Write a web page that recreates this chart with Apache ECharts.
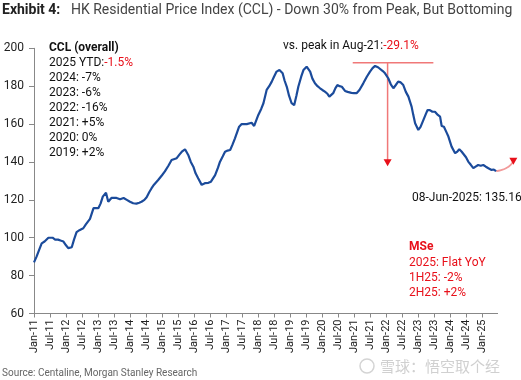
<!DOCTYPE html>
<html><head><meta charset="utf-8">
<script src="https://cdn.jsdelivr.net/npm/echarts@6/dist/echarts.min.js"></script>
<style>html,body{margin:0;padding:0;background:#fff}#c{width:521px;height:380px}</style>
</head><body><div id="c"></div>
<script>
// decimal-year positions of the readings and the CCL index values
const years = [2011.0,2011.08,2011.17,2011.24,2011.33,2011.45,2011.5,2011.58,2011.66,2011.75,2011.83,2011.92,
2012.0,2012.07,2012.18,2012.25,2012.33,2012.42,2012.54,2012.62,2012.75,2012.86,2012.92,
2013.01,2013.08,2013.15,2013.25,2013.32,2013.42,2013.48,2013.58,2013.69,2013.8,2013.9,
2014.0,2014.1,2014.2,2014.29,2014.36,2014.45,2014.52,2014.6,2014.67,2014.75,2014.88,
2015.0,2015.09,2015.2,2015.3,2015.46,2015.55,2015.62,2015.72,2015.82,2015.9,2015.98,
2016.05,2016.13,2016.24,2016.34,2016.45,2016.53,2016.66,2016.75,2016.81,2016.9,2016.97,
2017.05,2017.13,2017.2,2017.28,2017.41,2017.49,2017.65,2017.8,2017.88,
2018.01,2018.1,2018.17,2018.27,2018.35,2018.43,2018.5,2018.58,2018.67,2018.77,2018.83,2018.9,2018.97,
2019.05,2019.13,2019.2,2019.26,2019.35,2019.42,2019.52,2019.63,2019.7,2019.78,2019.86,2019.94,
2020.01,2020.09,2020.17,2020.23,2020.35,2020.42,2020.48,2020.55,2020.62,2020.72,2020.8,2020.92,
2021.0,2021.08,2021.17,2021.29,2021.4,2021.5,2021.58,2021.66,2021.75,2021.81,2021.9,2021.97,
2022.07,2022.15,2022.23,2022.3,2022.38,2022.46,2022.54,2022.62,2022.7,2022.8,2022.85,2022.91,
2023.01,2023.08,2023.17,2023.25,2023.3,2023.37,2023.45,2023.53,2023.62,2023.69,2023.74,2023.81,2023.88,2023.95,
2024.05,2024.16,2024.23,2024.29,2024.36,2024.42,2024.5,2024.57,2024.65,2024.73,2024.8,2024.88,2024.96,
2025.04,2025.12,2025.2,2025.3,2025.37,2025.44];
const ccl = [87,90,94,97,98,100,99,100,99,99,98.5,98,
96,94.5,95,99,103,104,105,107,110,115.6,115,
115.6,118,121.7,123.8,119,121,120.8,121,120.3,121,120,
119,118.2,118,118.5,119,120,121.4,124,126,128,130.5,
133,135,138,141,142,144,145.4,146.7,143.7,140,137.5,
134,131.4,127.9,128.8,129,129.6,133,137,140,143,145.4,
146,146.3,149,152.5,158.6,160,160,160.7,159,
164.8,168,171,178,180,182.4,185,187.7,188.5,186.8,183,179.7,175,
171,170,175,179.7,185,188.5,190.3,187.7,184,181.5,180,178.9,
178,177.1,176,174.5,176.3,179,180.6,180,179.7,177.5,177,176.5,
176.3,176.3,178,181.5,185,187.7,189.5,190.7,190,189.4,188,186.8,
184.2,181,178.9,180.5,182.4,182,180.6,177,174.5,169.2,165,160.4,
156.9,158.5,162.2,165.5,167.4,167.4,166.5,166.5,164.8,163.9,159,158.6,156,153.4,
148.1,144.6,145.5,146.7,145.5,144.6,142.5,140.2,138.5,136.7,137.5,138.4,138,
138.4,137.5,136.7,135.8,136,135.16];
// MS estimate path for 2H25
const projYears = [2025.44,2025.6,2025.75,2025.88,2025.98];
const projValues = [135.16,135.7,136.7,138.2,140.4];
// peak reference line and drop arrow
const peakYears = [2020.96,2023.48];
const peakValue = 192.4;
const dropYear = 2022.05;
const dropValues = [192.4,139.6];
// x-axis extent (axis line drawn up to axisEnd)
const axisStart = 2011, axisEnd = 2025.5;
const tickLabels = ["Jan-11","Jul-11","Jan-12","Jul-12","Jan-13","Jul-13","Jan-14","Jul-14","Jan-15","Jul-15",
"Jan-16","Jul-16","Jan-17","Jul-17","Jan-18","Jul-18","Jan-19","Jul-19","Jan-20","Jul-20",
"Jan-21","Jul-21","Jan-22","Jul-22","Jan-23","Jul-23","Jan-24","Jul-24","Jan-25"];
const leftNotes = ["2024: -7%","2023: -6%","2022: -16%","2021: +5%","2020: 0%","2019: +2%"];
const mseNotes = ["2025: Flat YoY","1H25: -2%","2H25: +2%"];

const FONT = "Roboto";
const chart = echarts.init(document.getElementById('c'), null, {renderer:'canvas'});
const tickVals = tickLabels.map((_, i) => 2011 + i * 0.5);
const graphics = [
  {type:'text', left:2, top:3, style:{text:'Exhibit 4:', font:'bold 14px '+FONT, fill:'#222'}},
  {type:'text', left:71, top:3, style:{text:'HK Residential Price Index (CCL) - Down 30% from Peak, But Bottoming', font:'14px '+FONT, fill:'#444'}},
  {type:'text', x:49, y:48, style:{text:'CCL (overall)', font:'bold 12px '+FONT, fill:'#111', verticalAlign:'middle'}},
  {type:'text', x:49, y:63, style:{text:'{a|2025 YTD:}{r|-1.5%}', verticalAlign:'middle', rich:{a:{font:'12px '+FONT, fill:'#111'}, r:{font:'12px '+FONT, fill:'#e8101a'}}}},
  {type:'text', x:283, y:46, style:{text:'{a|vs. peak in Aug-21:}{r|-29.1%}', verticalAlign:'middle', rich:{a:{font:'12px '+FONT, fill:'#111'}, r:{font:'12px '+FONT, fill:'#e8101a'}}}},
  {type:'text', x:412, y:198, style:{text:'08-Jun-2025: 135.16', font:'12px '+FONT, fill:'#111', verticalAlign:'middle'}},
  {type:'text', x:409, y:247, style:{text:'MSe', font:'bold 12px '+FONT, fill:'#e8101a', verticalAlign:'middle'}},
  {type:'text', x:2, y:373, style:{text:'Source: Centaline, Morgan Stanley Research', font:'10px '+FONT, fill:'#666', verticalAlign:'middle'}},
  {type:'circle', shape:{cx:367, cy:366, r:7}, style:{fill:'none', stroke:'#d4d4d4', lineWidth:1.5}},
  {type:'text', x:380, y:366, style:{text:'雪球：悟空取个经', font:'15px "Noto Sans CJK SC"', fill:'#d0d0d0', verticalAlign:'middle'}}
];
leftNotes.forEach((t, i) => graphics.push({type:'text', x:49, y:78 + i * 15, style:{text:t, font:'12px '+FONT, fill:'#111', verticalAlign:'middle'}}));
mseNotes.forEach((t, i) => graphics.push({type:'text', x:409, y:263 + i * 15, style:{text:t, font:'12px '+FONT, fill:'#e8101a', verticalAlign:'middle'}}));

const arrowPt = (pt) => ({value:pt, symbol:'triangle', symbolRotate:180, symbolSize:[8,7], itemStyle:{color:'#e8101a'}});

chart.setOption({
  animation:false,
  textStyle:{fontFamily:FONT},
  grid:{left:34, right:7, top:48.3, bottom:66.5, containLabel:false},
  xAxis:{type:'value', min:2011, max:2026, interval:0.5,
    axisLine:{show:false},
    axisTick:{customValues:tickVals, length:4, lineStyle:{color:'#888'}},
    axisLabel:{customValues:tickVals, rotate:90, fontSize:11, color:'#222', margin:6,
      formatter:(v) => tickLabels[Math.round((v - 2011) * 2)] || ''},
    splitLine:{show:false}},
  yAxis:{type:'value', min:60, max:200, interval:20,
    axisLine:{show:true, lineStyle:{color:'#888', width:1}},
    axisTick:{show:true, length:5, lineStyle:{color:'#888'}},
    axisLabel:{fontSize:12, color:'#222', margin:10},
    splitLine:{show:false}},
  graphic:graphics,
  series:[
    {type:'line', data:[[axisStart, 60], [axisEnd, 60]], symbol:'none', lineStyle:{color:'#888', width:1}, z:1, silent:true},
    {type:'line', data:peakYears.map(y => [y, peakValue]), symbol:'none', lineStyle:{color:'#f07878', width:1.5}, z:1},
    {type:'line', data:[[dropYear, dropValues[0]], arrowPt([dropYear, dropValues[1]])], symbol:'none', showSymbol:true, lineStyle:{color:'#f07878', width:1.5}, z:1},
    {type:'line', data:years.map((y, i) => [y, ccl[i]]), symbol:'none', lineStyle:{color:'#1b4b9b', width:2.2}, z:3},
    {type:'line', smooth:true, data:projYears.map((y, i) => [y, projValues[i]]), symbol:'none',
      lineStyle:{color:'#f29a9a', width:1.8}, z:2},
    {type:'line', clip:false, data:[arrowPt([projYears[projYears.length - 1], projValues[projValues.length - 1]])], symbol:'none', showSymbol:true, lineStyle:{width:0}, z:2}
  ]
});
</script></body></html>
